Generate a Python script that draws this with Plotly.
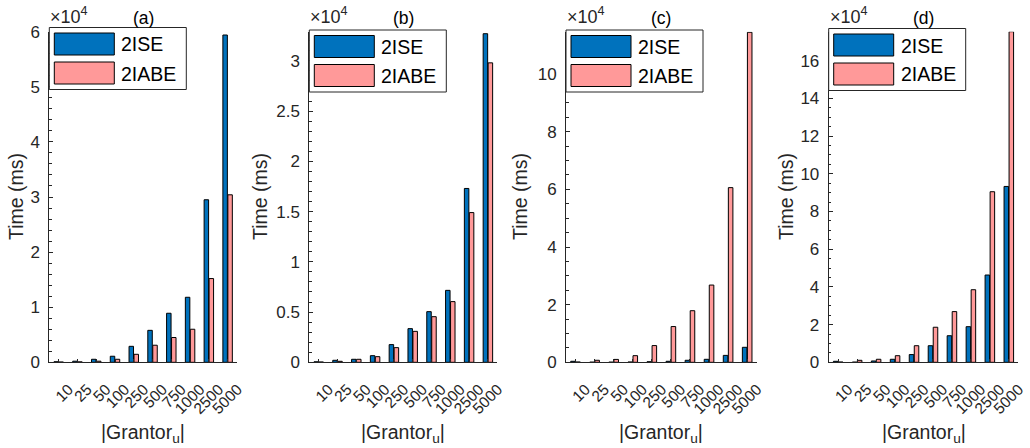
import plotly.graph_objects as go

# ---------------- data (ms) ----------------
categories = ["10", "25", "50", "100", "250", "500", "750", "1000", "2500", "5000"]
series_names = ["2ISE", "2IABE"]
panel_labels = ["(a)", "(b)", "(c)", "(d)"]

ise_a = [100, 200, 550, 1100, 2900, 5800, 8900, 11800, 29500, 59400]
iabe_a = [50, 80, 200, 550, 1450, 3100, 4500, 6000, 15200, 30400]
ise_b = [50, 200, 300, 660, 1760, 3350, 5040, 7160, 17300, 32700]
iabe_b = [30, 100, 300, 560, 1460, 3080, 4540, 6040, 14900, 29800]
ise_c = [350, 50, 50, 100, 200, 350, 700, 1040, 2400, 5200]
iabe_c = [100, 700, 1000, 2300, 5800, 12400, 17900, 26800, 60600, 114500]
ise_d = [530, 100, 700, 1600, 4100, 8800, 14100, 18900, 46300, 93300]
iabe_d = [150, 1060, 1600, 3500, 8800, 18600, 26900, 38500, 90500, 175400]

# axis settings (ms)
y_tops = [60000, 32900, 114700, 175400]
y_major_steps = [10000, 5000, 20000, 20000]
y_minor_steps = [2000, 1000, 5000, 5000]
y_tick_max = [60000, 30000, 100000, 160000]

# ---------------- style / layout ----------------
W, H = 1030, 448
BLUE = "#0072BD"
PINK = "#FF9999"
AX = "#262626"
FONT = "Liberation Sans, Arial, Helvetica, sans-serif"

ax_left_px = [49.3, 309.3, 566.0, 828.7]
ax_right_px = [237.0, 497.3, 756.7, 1018.3]
ax_top_px, ax_bot_px = 31.7, 362.3
ylabel_x_px = [16, 260, 520, 786]
legend_top_px = [27.5, 30, 30, 28.5]

def px_x(v):
    return v / W

def px_y(v):
    return 1 - v / H

panels = [(ise_a, iabe_a), (ise_b, iabe_b), (ise_c, iabe_c), (ise_d, iabe_d)]

fig = go.Figure()
layout = dict(
    width=W, height=H,
    margin=dict(l=0, r=0, t=0, b=0, pad=0, autoexpand=False),
    paper_bgcolor="white", plot_bgcolor="white",
    barmode="group", bargap=0.47, bargroupgap=0.1,
    showlegend=False,
    font=dict(family=FONT, color=AX, size=16),
)
annotations = []
shapes = []

for i, (ise, iabe) in enumerate(panels):
    n = "" if i == 0 else str(i + 1)
    for name, vals, col in ((series_names[0], ise, BLUE), (series_names[1], iabe, PINK)):
        fig.add_trace(go.Bar(
            x=categories, y=vals, name=name,
            marker=dict(color=col, line=dict(color="#000000", width=1)),
            xaxis="x" + n, yaxis="y" + n, hoverinfo="skip",
        ))
    tickvals = list(range(0, y_tick_max[i] + 1, y_major_steps[i]))
    ticktext = [f"{v / 1e4:g}" for v in tickvals]
    l, r = ax_left_px[i], ax_right_px[i]
    layout["xaxis" + n] = dict(
        domain=[px_x(l), px_x(r)], anchor="y" + n, type="category",
        range=[-0.5, len(categories) - 0.5], automargin=False,
        tickmode="array", tickvals=categories, ticktext=categories,
        showline=True, linecolor=AX, linewidth=1,
        ticks="inside", ticklen=3, tickcolor=AX, tickwidth=1,
        tickangle=-45, tickfont=dict(size=15.5, color=AX, family=FONT),
        ticklabelstandoff=11, ticklabelshift=10,
        showgrid=False, zeroline=False, fixedrange=True,
    )
    layout["yaxis" + n] = dict(
        domain=[px_y(ax_bot_px), px_y(ax_top_px)], anchor="x" + n,
        range=[0, y_tops[i]], automargin=False,
        tickmode="array", tickvals=tickvals, ticktext=ticktext,
        ticks="inside", ticklen=4, tickcolor=AX, tickwidth=1,
        minor=dict(ticks="inside", ticklen=2.5, tickcolor=AX, tickmode="linear",
                   tick0=0, dtick=y_minor_steps[i], showgrid=False),
        showline=True, linecolor=AX, linewidth=1,
        tickfont=dict(size=17, color=AX, family=FONT),
        ticklabelstandoff=5,
        showgrid=False, zeroline=False, fixedrange=True,
    )
    cx = (l + r) / 2
    # panel title
    annotations.append(dict(text=panel_labels[i], x=px_x(cx), y=px_y(18), xref="paper", yref="paper",
                            xanchor="center", yanchor="middle", showarrow=False,
                            font=dict(size=17.5, color="#000000", family=FONT)))
    # exponent
    annotations.append(dict(text="×10<sup>4</sup>", x=px_x(l - 1), y=px_y(15), xref="paper", yref="paper",
                            xanchor="left", yanchor="middle", showarrow=False,
                            font=dict(size=18, color=AX, family=FONT)))
    # y label
    annotations.append(dict(text="Time (ms)", x=px_x(ylabel_x_px[i]), y=px_y((ax_top_px + ax_bot_px) / 2),
                            xref="paper", yref="paper", xanchor="center", yanchor="middle",
                            textangle=-90, showarrow=False,
                            font=dict(size=19.5, color=AX, family=FONT)))
    # x label
    annotations.append(dict(text="|Grantor<sub>u</sub>|", x=px_x(cx), y=px_y(433),
                            xref="paper", yref="paper", xanchor="center", yanchor="middle",
                            showarrow=False, font=dict(size=19.5, color=AX, family=FONT)))
    # legend box
    t = legend_top_px[i]
    shapes.append(dict(type="rect", xref="paper", yref="paper",
                       x0=px_x(l), x1=px_x(l + 137), y0=px_y(t), y1=px_y(t + 62),
                       fillcolor="white", line=dict(color=AX, width=1), layer="above"))
    for k, (name, col) in enumerate(((series_names[0], BLUE), (series_names[1], PINK))):
        sy0 = t + 5.5 + k * 29
        shapes.append(dict(type="rect", xref="paper", yref="paper",
                           x0=px_x(l + 5), x1=px_x(l + 65), y0=px_y(sy0), y1=px_y(sy0 + 22),
                           fillcolor=col, line=dict(color="#000000", width=1), layer="above"))
        annotations.append(dict(text=name, x=px_x(l + 70), y=px_y(sy0 + 11.5), xref="paper", yref="paper",
                                xanchor="left", yanchor="middle", showarrow=False,
                                font=dict(size=19.5, color="#000000", family=FONT)))

layout["annotations"] = annotations
layout["shapes"] = shapes
fig.update_layout(**layout)
fig.write_html("out.html", config={"displayModeBar": False},
               post_script="document.body.style.margin='0';document.body.style.overflow='hidden';")
